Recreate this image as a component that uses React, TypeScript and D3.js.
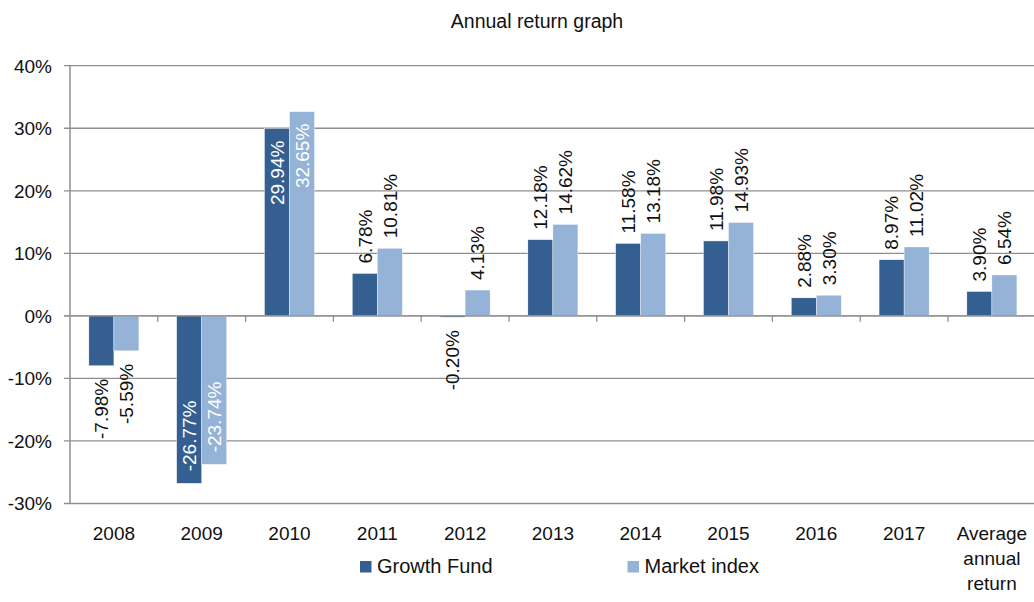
import React from "react";
import * as d3 from "d3";

const categories = ["2008", "2009", "2010", "2011", "2012", "2013", "2014", "2015", "2016", "2017", "Average annual return"];
const growthFund = [-7.98, -26.77, 29.94, 6.78, -0.2, 12.18, 11.58, 11.98, 2.88, 8.97, 3.9];
const marketIndex = [-5.59, -23.74, 32.65, 10.81, 4.13, 14.62, 13.18, 14.93, 3.3, 11.02, 6.54];
const yTicks = [-30, -20, -10, 0, 10, 20, 30, 40];
const seriesNames = ["Growth Fund", "Market index"];
const seriesColors = ["#365F91", "#95B3D7"];

const W = 1034;
const H = 602;
const FONT = "'Liberation Sans', Arial, sans-serif";

export default function App() {
  const left = 70;
  const bandW = 87.8;
  const x = d3.scaleBand<string>().domain(categories).range([left, left + bandW * categories.length]).padding(0);
  const y = d3.scaleLinear().domain([-30, 40]).range([503.5, 65.7]);
  const barW = bandW * 0.285;
  const series = [growthFund, marketIndex];
  const y0 = y(0);
  const fmt = (v: number) => v.toFixed(2) + "%";

  return (
    <svg width={W} height={H} style={{ position: "absolute", left: 0, top: 0, background: "#fff" }} fontFamily={FONT}>
      <text x={537} y={28} textAnchor="middle" fontSize={19.5} fill="#111">Annual return graph</text>
      {yTicks.map((t) => (
        <g key={t}>
          <line x1={64} x2={W} y1={y(t)} y2={y(t)} stroke="#8f8f8f" strokeWidth={1.3} />
          <text x={52} y={y(t)} dy="0.36em" textAnchor="end" fontSize={19} fill="#111">{t}%</text>
        </g>
      ))}
      <line x1={left} x2={left} y1={y(40)} y2={y(-30)} stroke="#8f8f8f" strokeWidth={1.5} />
      {categories.map((c, i) => (
        i > 0 ? <line key={"tk" + c} x1={x(c)!} x2={x(c)!} y1={y0} y2={y0 + 6} stroke="#8f8f8f" strokeWidth={1.3} /> : null
      ))}
      {categories.map((c, i) => {
        const cx = x(c)! + bandW / 2;
        return series.map((s, si) => {
          const v = s[i];
          const bx = cx - barW + si * barW;
          const top = Math.min(y(v), y0);
          const h = Math.abs(y(v) - y0);
          const bcx = bx + barW / 2;
          const inside = Math.abs(v) > 20;
          const end = y(v);
          let ly: number;
          let anchor: string;
          if (v >= 0) {
            if (inside) { ly = end + 12; anchor = "end"; } else { ly = end - 10; anchor = "start"; }
          } else {
            if (inside) { ly = end - 12; anchor = "start"; } else { ly = end + 13; anchor = "end"; }
          }
          return (
            <g key={c + si}>
              <rect x={bx} y={top} width={barW} height={Math.max(h, 0.8)} fill={seriesColors[si]} stroke="#ffffff" strokeWidth={0.4} />
              <text
                transform={`translate(${bcx},${ly}) rotate(-90)`}
                textAnchor={anchor}
                dy="0.36em"
                fontSize={19}
                fill={inside ? "#ffffff" : "#111"}
              >{fmt(v)}</text>
            </g>
          );
        });
      })}
      <line x1={64} x2={W} y1={y0} y2={y0} stroke="#8f8f8f" strokeWidth={1.3} />
      {categories.map((c) => {
        const cx = x(c)! + bandW / 2;
        const lines = c === "Average annual return" ? ["Average", "annual", "return"] : [c];
        return (
          <text key={"xl" + c} x={cx} y={540} textAnchor="middle" fontSize={19} fill="#111">
            {lines.map((l, k) => (
              <tspan key={k} x={cx} dy={k === 0 ? 0 : 25}>{l}</tspan>
            ))}
          </text>
        );
      })}
      {seriesNames.map((n, i) => {
        const lx = i === 0 ? 360 : 627.5;
        return (
          <g key={n}>
            <rect x={lx} y={561} width={11.5} height={11.5} fill={seriesColors[i]} />
            <text x={lx + 17} y={572.5} fontSize={20} fill="#111">{n}</text>
          </g>
        );
      })}
    </svg>
  );
}
